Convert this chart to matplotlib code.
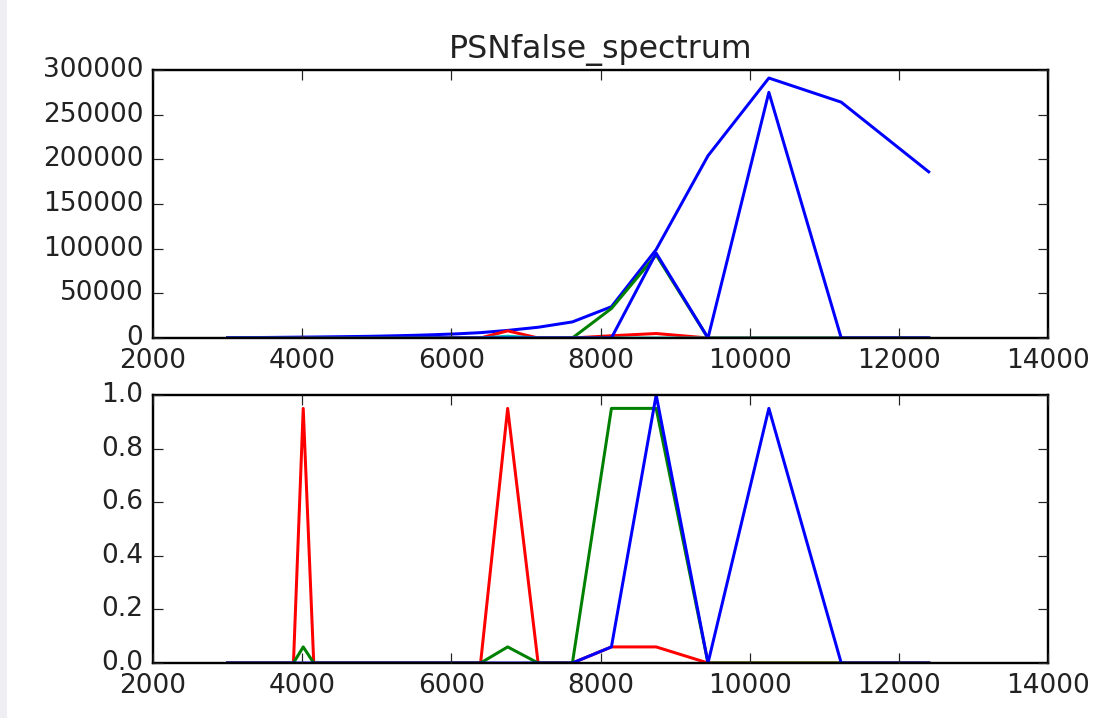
import matplotlib
matplotlib.use("Agg")
import matplotlib.pyplot as plt
from matplotlib.patches import Rectangle

plt.style.use("classic")
plt.rcParams["font.size"] = 11
plt.rcParams["axes.titlesize"] = 13.2
plt.rcParams["text.color"] = "#222222"
plt.rcParams["xtick.color"] = "#222222"
plt.rcParams["ytick.color"] = "#222222"
plt.rcParams["lines.linewidth"] = 1.25

# frequency bins
freqs = [3000, 3078, 3160, 3246, 3337, 3434, 3536, 3645, 3760, 3883,
         4014, 4155, 4305, 4467, 4642, 4831, 5036, 5259, 5503, 5770,
         6065, 6392, 6755, 7163, 7623, 8146, 8746, 9441, 10257, 11227, 12400]

# top panel: spectrum energy
total_spec = [300, 350, 400, 450, 500, 550, 600, 700, 800, 900,
              1000, 1100, 1250, 1400, 1600, 1800, 2100, 2500, 3000, 3700,
              4600, 6000, 8500, 12000, 18000, 35000, 99000, 204000, 291000, 264000, 186000]
green_spec = [0] * 25 + [33000, 93000, 0, 0, 0, 0]
red_spec = [0] * 10 + [500] + [0] * 11 + [8000, 0, 0, 2500, 5000, 0, 0, 0, 0]
cyan_spec = [0] * 22 + [2000] + [0] * 8
zero_spec = [0] * 31
blue_spec = [0] * 26 + [95000, 0, 275000, 0, 0]

# bottom panel: normalised values
red_norm = [0] * 10 + [0.95] + [0] * 11 + [0.95, 0, 0, 0.06, 0.06, 0, 0, 0, 0]
green_norm = [0] * 10 + [0.06] + [0] * 11 + [0.06, 0, 0, 0.95, 0.95, 0, 0, 0, 0]
zero_norm = [0] * 31
blue_norm = [0] * 25 + [0.06, 1.0, 0, 0.95, 0, 0]

dpi = 172.8
fig = plt.figure(figsize=(6.3255, 4.1552), dpi=dpi, facecolor="white")
fig.patches.append(Rectangle((0, 0), 7 / 1093, 1, transform=fig.transFigure,
                             facecolor="#efeff3", edgecolor="none"))

ax1 = fig.add_axes([153 / 1093, 1 - 338 / 718, 895 / 1093, 268 / 718])
ax1.plot(freqs, total_spec, color="b")
ax1.plot(freqs, green_spec, color="g")
ax1.plot(freqs, red_spec, color="r")
ax1.plot(freqs, cyan_spec, color="c")
ax1.plot(freqs, zero_spec, color="m")
ax1.plot(freqs, zero_spec, color="y")
ax1.plot(freqs, blue_spec, color="b")
ax1.set_xlim(2000, 14000)
ax1.set_ylim(0, 300000)
ax1.set_title("PSNfalse_spectrum")

ax2 = fig.add_axes([153 / 1093, 1 - 663 / 718, 895 / 1093, 268 / 718])
ax2.plot(freqs, red_norm, color="r")
ax2.plot(freqs, green_norm, color="g")
ax2.plot(freqs, zero_norm, color="c")
ax2.plot(freqs, zero_norm, color="m")
ax2.plot(freqs, zero_norm, color="y")
ax2.plot(freqs, blue_norm, color="b")
ax2.set_xlim(2000, 14000)
ax2.set_ylim(0, 1.0)

fig.savefig("out.png", dpi=dpi, facecolor="white")
